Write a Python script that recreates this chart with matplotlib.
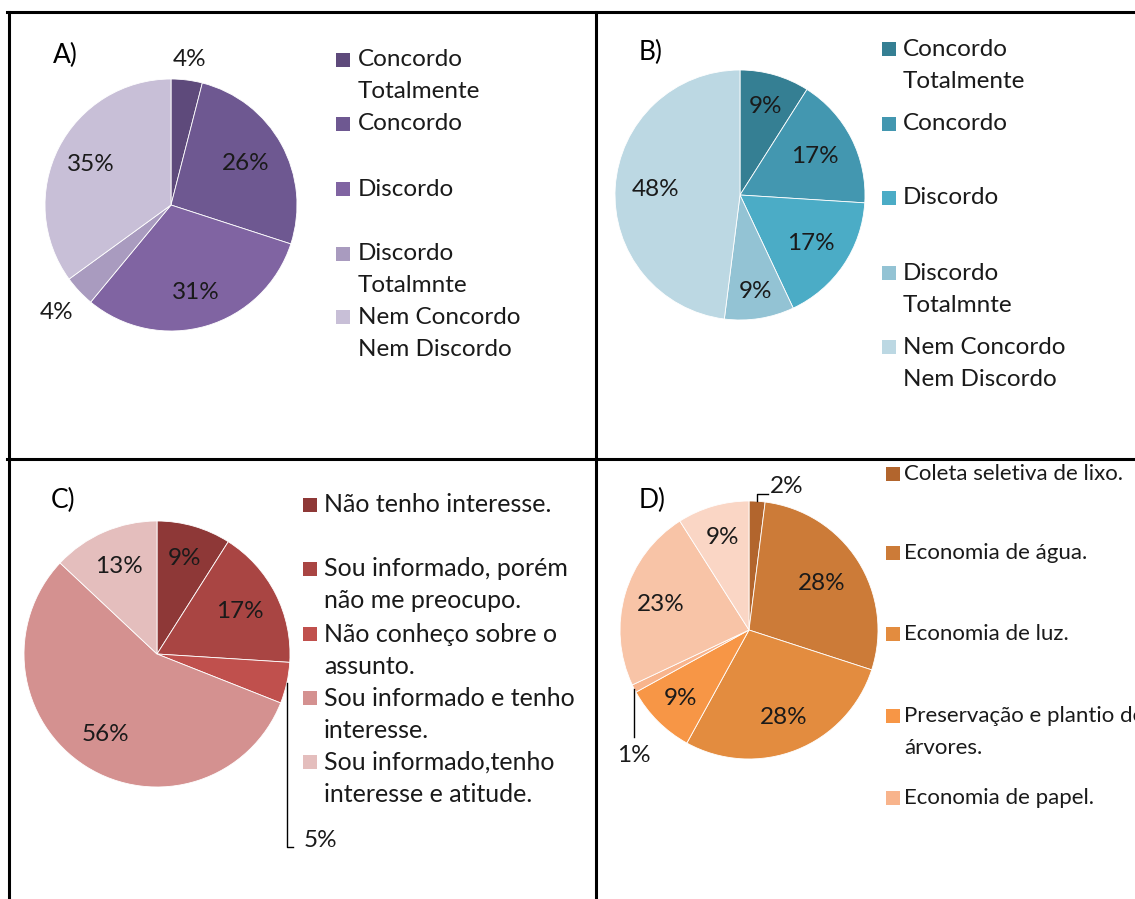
import numpy as np
import matplotlib
matplotlib.use("Agg")
import matplotlib.pyplot as plt
from matplotlib.patches import Rectangle
from matplotlib.lines import Line2D

plt.rcParams['font.family'] = ['Lato', 'DejaVu Sans']

# ---------------- data ----------------
labels_a = ["Concordo\nTotalmente", "Concordo", "Discordo", "Discordo\nTotalmnte", "Nem Concordo\nNem Discordo"]
values_a = [4, 26, 31, 4, 35]
colors_a = ["#5e4a7b", "#6e5891", "#8064a2", "#a99bbf", "#c8bfd7"]

labels_b = ["Concordo\nTotalmente", "Concordo", "Discordo", "Discordo\nTotalmnte", "Nem Concordo\nNem Discordo"]
values_b = [9, 17, 17, 9, 48]
colors_b = ["#357f93", "#4397b0", "#4bacc6", "#93c3d4", "#bcd8e3"]

labels_c = ["Não tenho interesse.", "Sou informado, porém\nnão me preocupo.", "Não conheço sobre o\nassunto.",
            "Sou informado e tenho\ninteresse.", "Sou informado,tenho\ninteresse e atitude."]
values_c = [9, 17, 5, 56, 13]
colors_c = ["#8e3837", "#a94543", "#c0504d", "#d49190", "#e4bebd"]

labels_d = ["Coleta seletiva de lixo.", "Economia de água.", "Economia de luz.",
            "Preservação e plantio de\nárvores.", "Economia de papel."]
values_d = [2, 28, 28, 9, 1, 23, 9]
colors_d = ["#b2652d", "#cc7b38", "#e38c3f", "#f79646", "#f8b48c", "#f8c4a7", "#fad6c5"]

W, H = 1135, 899
fig = plt.figure(figsize=(W / 100, H / 100), dpi=100)
fig.patch.set_facecolor("white")

PCT_FS = 17.5
TITLE_FS = 19
TXT = "#1a1a1a"


def fx(x):
    return x / W


def fy(y):
    return 1 - y / H


def pie_panel(cx, cy, r, values, colors, dists):
    ax = fig.add_axes([fx(cx - r), fy(cy + r), 2 * r / W, 2 * r / H])
    wedges, _ = ax.pie(values, colors=colors, startangle=90, counterclock=False, radius=1,
                       wedgeprops=dict(edgecolor="white", linewidth=0.6))
    ax.set_xlim(-1, 1)
    ax.set_ylim(-1, 1)
    ax.axis("off")
    for w, v, d in zip(wedges, values, dists):
        if d is None:
            continue
        mid = np.deg2rad((w.theta1 + w.theta2) / 2)
        ax.text(d * np.cos(mid), d * np.sin(mid), f"{v}%", ha="center", va="center",
                fontsize=PCT_FS, color=TXT, clip_on=False)
    return ax, wedges


def legend(x_sq, x_txt, ys, labels, colors, fs, line_gap=32, sq=14):
    for y, lab, col in zip(ys, labels, colors):
        fig.patches.append(Rectangle((fx(x_sq), fy(y + sq / 2)), sq / W, sq / H,
                                     transform=fig.transFigure, facecolor=col, edgecolor="none"))
        for i, line in enumerate(lab.split("\n")):
            fig.text(fx(x_txt), fy(y + i * line_gap), line, ha="left", va="center",
                     fontsize=fs, color=TXT)


def mid_angle(wedge):
    return np.deg2rad((wedge.theta1 + wedge.theta2) / 2)


def leader(ax, wedge, pts, text, tx, ty, ha):
    m = mid_angle(wedge)
    xs = [np.cos(m)] + [p[0] for p in pts]
    ys = [np.sin(m)] + [p[1] for p in pts]
    ax.add_line(Line2D(xs, ys, color="black", linewidth=1.0, clip_on=False))
    ax.text(tx, ty, text, ha=ha, va="center", fontsize=PCT_FS, color=TXT, clip_on=False)


# ---------------- panel A ----------------
pie_panel(171, 205, 126, values_a, colors_a, [1.16, 0.68, 0.72, 1.25, 0.71])
fig.text(fx(65), fy(55), "A)", ha="center", va="center", fontsize=TITLE_FS, color="black")
legend(336, 358, [60, 124, 189, 254, 317], labels_a, colors_a, 17.5)

# ---------------- panel B ----------------
pie_panel(740, 195, 125, values_b, colors_b, [0.74, 0.67, 0.69, 0.78, 0.68])
fig.text(fx(651), fy(52), "B)", ha="center", va="center", fontsize=TITLE_FS, color="black")
legend(882, 903, [49, 124, 198, 273, 347], labels_b, colors_b, 17.5)

# ---------------- panel C ----------------
ax_c, w_c = pie_panel(157, 654, 133, values_c, colors_c, [0.75, 0.70, None, 0.72, 0.72])
mc = mid_angle(w_c[2])
leader(ax_c, w_c[2], [(np.cos(mc), -1.45), (1.02, -1.45)], f"{values_c[2]}%", 1.10, -1.405, "left")
fig.text(fx(63), fy(500), "C)", ha="center", va="center", fontsize=TITLE_FS, color="black")
legend(303, 324, [505, 569, 634, 698, 762], labels_c, colors_c, 18)

# ---------------- panel D ----------------
ax_d, w_d = pie_panel(749, 630, 129, values_d, colors_d, [None, 0.67, 0.73, 0.75, None, 0.71, 0.75])
m0 = mid_angle(w_d[0])
leader(ax_d, w_d[0], [(np.cos(m0), 1.055), (0.15, 1.055)], f"{values_d[0]}%", 0.165, 1.11, "left")
m4 = mid_angle(w_d[4])
leader(ax_d, w_d[4], [(np.cos(m4), -0.83)], f"{values_d[4]}%", np.cos(m4), -0.97, "center")
fig.text(fx(652), fy(500), "D)", ha="center", va="center", fontsize=TITLE_FS, color="black")
legend(886, 904, [474, 553, 634, 716, 798], labels_d, colors_d[:5], 16)

# ---------------- frame lines ----------------
lw = 2.2
for (x0, y0, x1, y1) in [(8.5, 12, 8.5, 899), (595.5, 12, 595.5, 899),
                         (7, 12, 1135, 12), (7, 459, 1135, 459)]:
    fig.add_artist(Line2D([fx(x0), fx(x1)], [fy(y0), fy(y1)], transform=fig.transFigure,
                          color="black", linewidth=lw))

fig.savefig("out.png", dpi=100)
